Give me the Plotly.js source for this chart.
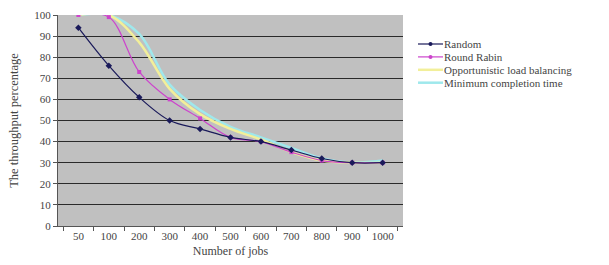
<!DOCTYPE html>
<html><head><meta charset="utf-8">
<script src="https://cdn.plot.ly/plotly-3.0.1.min.js"></script>
<style>html,body{margin:0;padding:0;background:#fff}#c{width:609px;height:265px}</style>
</head><body><div id="c"></div>
<script>
const jobs = ['50','100','200','300','400','500','600','700','800','900','1000'];
const randomVals = [94, 76, 61, 50, 46, 42, 40, 36, 32, 30, 30];
const roundRobin = [100, 99, 73, 60, 51, 42, 40, 35, 31, 30, 30];
const opportunistic = [100, 100, 87, 65, 53, 46, 41, 35, 31, 30, 30];
const minCompletion = [100, 100, 91, 67, 55, 47, 42, 37, 32, 30, 31];
const names = ['Random', 'Round Rabin', 'Opportunistic load balancing', 'Minimum completion time'];
const colors = ['#1a1a5a', '#cc44cc', '#f2ef9a', '#9fe8ec'];

const serif = 'Liberation Serif';
const txt = '#444';
const series = [randomVals, roundRobin, opportunistic, minCompletion];
const symbols = ['diamond', 'square', 'triangle-up', 'x'];
const msizes = [5, 4, 0, 0];

const order = [3, 2, 1, 0];
const traces = order.map(i => ({
  type: 'scatter', mode: msizes[i] ? 'lines+markers' : 'lines', x: jobs, y: series[i], name: names[i],
  line: {color: colors[i], width: msizes[i] ? 1.2 : 2.5, shape: 'spline', smoothing: 1},
  marker: {color: colors[i], symbol: symbols[i], size: msizes[i]},
  showlegend: false
}));

// legend drawn in paper coordinates
const plotW = 609 - 58 - 206, plotH = 265 - 15 - 39;
const px = v => (v - 58) / plotW;
const py = v => (226 - v) / plotH;
const rowY = [44, 56.9, 69.8, 82.7];
const shapes = [], annotations = [];
names.forEach((n, i) => {
  shapes.push({type: 'line', xref: 'paper', yref: 'paper', x0: px(418), x1: px(443), y0: py(rowY[i]), y1: py(rowY[i]),
    line: {color: colors[i], width: msizes[i] ? 1.2 : 2.5}});
  if (msizes[i]) {
    shapes.push({type: 'circle', xref: 'paper', yref: 'paper', fillcolor: colors[i], line: {width: 0},
      x0: px(428.5), x1: px(432.5), y0: py(rowY[i] + 2), y1: py(rowY[i] - 2)});
  }
  annotations.push({xref: 'paper', yref: 'paper', x: px(443), y: py(rowY[i]), xanchor: 'left', yanchor: 'middle',
    text: n, showarrow: false, borderpad: 0, font: {family: serif, size: 11, color: txt}});
});

const layout = {
  width: 609, height: 265,
  margin: {l: 58, r: 206, t: 15, b: 39},
  paper_bgcolor: '#fff', plot_bgcolor: '#c0c0c0',
  font: {family: serif, color: txt, size: 11},
  showlegend: false,
  shapes: shapes, annotations: annotations,
  xaxis: {type: 'category', tickson: 'boundaries', ticks: 'outside', ticklen: 4, tickangle: 0,
    tickcolor: '#555', showgrid: false, showline: true, linecolor: '#555', linewidth: 1,
    tickfont: {family: serif, size: 11, color: txt},
    title: {text: 'Number of jobs', font: {family: serif, size: 12, color: txt}, standoff: 5}},
  yaxis: {range: [0, 100], dtick: 10, ticks: 'outside', ticklen: 4, tickcolor: '#555',
    showgrid: true, gridcolor: '#2a2a2a', gridwidth: 1, showline: true, linecolor: '#555',
    zeroline: false, tickfont: {family: serif, size: 11, color: txt},
    title: {text: 'The throughput percentage', font: {family: serif, size: 12.5, color: txt}, standoff: 12}}
};
Plotly.newPlot('c', traces, layout, {displayModeBar: false, staticPlot: true});
</script></body></html>
